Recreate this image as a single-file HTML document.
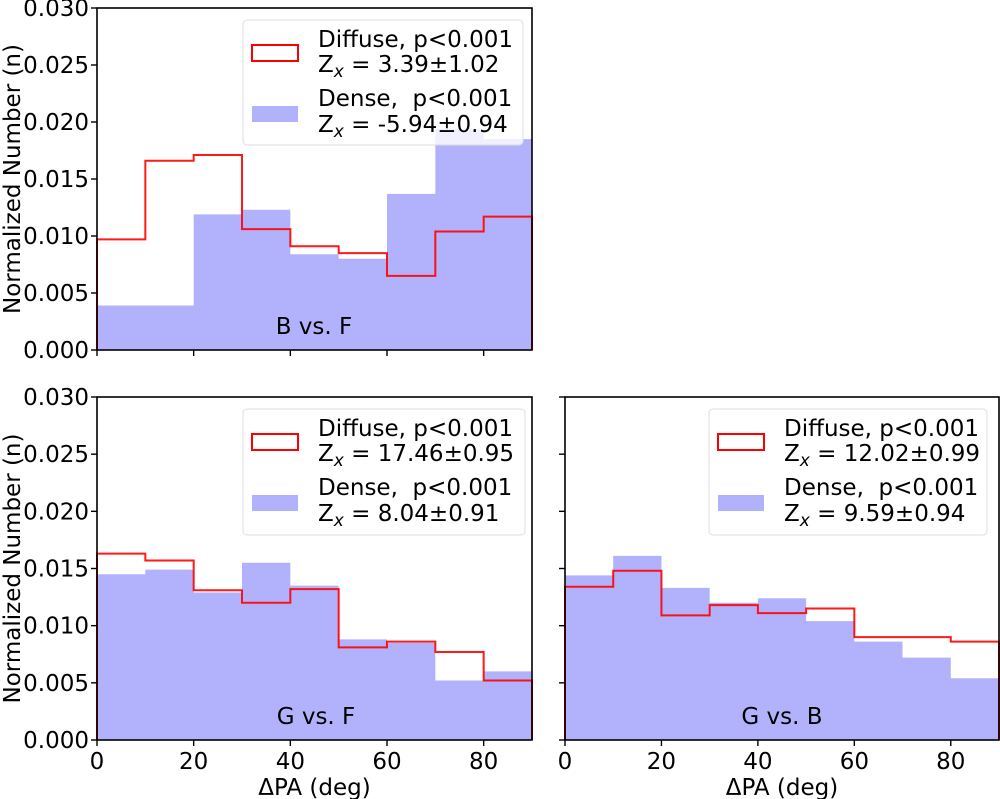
<!DOCTYPE html>
<html><head><meta charset="utf-8">
<style>
html,body{margin:0;padding:0;background:#fff;}
svg{display:block;font-family:"DejaVu Sans","Liberation Sans",sans-serif;}
text{white-space:pre;}
</style></head>
<body>
<svg id="fig" width="1000" height="799" viewBox="0 0 1000 799"></svg>
<script>
const bins = [0,10,20,30,40,50,60,70,80,90];
const yTicks = [0.000,0.005,0.010,0.015,0.020,0.025,0.030];
const yTickLabels = ["0.000","0.005","0.010","0.015","0.020","0.025","0.030"];
const xTicks = [0,20,40,60,80];
const bfDiffuse = [0.0097,0.0166,0.0171,0.0106,0.0091,0.0085,0.0065,0.0104,0.0117];
const bfDense   = [0.0039,0.0039,0.0119,0.0123,0.0084,0.0080,0.0137,0.0194,0.0185];
const gfDiffuse = [0.0163,0.0157,0.0131,0.0120,0.0132,0.0081,0.0086,0.0077,0.0052];
const gfDense   = [0.0145,0.0149,0.0129,0.0155,0.0135,0.0088,0.0085,0.0052,0.0060];
const gbDiffuse = [0.0134,0.0148,0.0109,0.0118,0.0111,0.0115,0.0090,0.0090,0.0086];
const gbDense   = [0.0144,0.0161,0.0133,0.0120,0.0124,0.0104,0.0086,0.0072,0.0054];

const NS="http://www.w3.org/2000/svg";
const svg=document.getElementById('fig');
const FS=23;
function mk(tag,attrs,parent){const e=document.createElementNS(NS,tag);for(const k in attrs)e.setAttribute(k,attrs[k]);(parent||svg).appendChild(e);return e;}

function panel(p){
  const g=mk('g',{});
  
  
  const xs=v=>p.x0+(v-0)/90*(p.x1-p.x0);
  const ys=v=>p.y1-v/0.03*(p.y1-p.y0);
  let d='M'+xs(bins[0])+','+ys(0);
  p.dense.forEach((v,i)=>{d+=' L'+xs(bins[i])+','+ys(v)+' L'+xs(bins[i+1])+','+ys(v);});
  d+=' L'+xs(bins[bins.length-1])+','+ys(0)+' Z';
  const den=mk('path',{d:d,fill:'#b2b2fc',stroke:'none'},g);
  
  
  let s='M'+xs(bins[0])+','+ys(0);
  p.diffuse.forEach((v,i)=>{s+=' L'+xs(bins[i])+','+ys(v)+' L'+xs(bins[i+1])+','+ys(v);});
  s+=' L'+xs(bins[bins.length-1])+','+ys(0);
  const dif=mk('path',{d:s,fill:'none',stroke:'#ff0000','stroke-width':2,'stroke-opacity':0.9},g);
  
  
  mk('rect',{x:p.x0,y:p.y0,width:p.x1-p.x0,height:p.y1-p.y0,fill:'none',stroke:'#000','stroke-width':1.6},g);
  yTicks.forEach((t,i)=>{
    mk('line',{x1:p.x0-6,x2:p.x0,y1:ys(t),y2:ys(t),stroke:'#000','stroke-width':1.4},g);
    if(p.ylabels){
      const tx=mk('text',{x:p.x0-8,y:ys(t)+8,'text-anchor':'end','font-size':FS,fill:'#000'},g);
      tx.textContent=yTickLabels[i];
      
      
    }
  });
  xTicks.forEach(t=>{
    mk('line',{x1:xs(t),x2:xs(t),y1:p.y1,y2:p.y1+6,stroke:'#000','stroke-width':1.4},g);
    if(p.xlabels){
      const tx=mk('text',{x:xs(t),y:p.y1+29,'text-anchor':'middle','font-size':FS,fill:'#000'},g);
      tx.textContent=String(t);
      
      
    }
  });
  if(p.xlabels){
    const xt=mk('text',{x:(p.x0+p.x1)/2,y:p.y1+55,'text-anchor':'middle','font-size':FS,fill:'#000'},g);
    xt.textContent='ΔPA (deg)';
    
    
  }
  if(p.ylabels){
    const yt=mk('text',{x:0,y:0,'text-anchor':'middle','font-size':FS,fill:'#000',transform:'translate(20,'+((p.y0+p.y1)/2)+') rotate(-90)'},g);
    yt.textContent='Normalized Number (n)';
    
    
  }
  const lab=mk('text',{x:p.labelX,y:p.y1-16,'text-anchor':'middle','font-size':FS,fill:'#000'},g);
  lab.textContent=p.label;
  
  
  const L=p.leg;
  const lg=mk('g',{},g);
  
  
  mk('rect',{x:L.x,y:L.y,width:L.w,height:L.h,rx:4,fill:'#fff','fill-opacity':0.8,stroke:'#ddd','stroke-width':1},lg);
  mk('rect',{x:L.x+L.off,y:L.y+25,width:46,height:16,fill:'#fff',stroke:'#ff0000','stroke-width':2},lg);
  mk('rect',{x:L.x+L.off,y:L.y+86,width:46,height:16,fill:'#b2b2fc'},lg);
  const lines=[['Diffuse, p<0.001',27],[null,52,p.zd],['Dense,  p<0.001',86],[null,112,p.zn]];
  lines.forEach(l=>{
    const t=mk('text',{x:L.x+L.off+66,y:L.y+l[1],'font-size':FS,fill:'#000'},lg);
    if(l[0]) t.textContent=l[0];
    else{
      t.appendChild(document.createTextNode('Z'));
      const sub=mk('tspan',{'font-style':'italic','font-size':17,dy:5},t);sub.textContent='x';
      const rest=mk('tspan',{dy:-5},t);rest.textContent=' = '+l[2];
    }
    
    
  });
}

panel({name:'panel-b-vs-f',x0:97,x1:532,y0:8,y1:350,diffuse:bfDiffuse,dense:bfDense,ylabels:true,xlabels:false,label:'B vs. F',labelX:314,
  leg:{x:243,y:20,w:280,h:125,off:9},zd:'3.39±1.02',zn:'-5.94±0.94'});
panel({name:'panel-g-vs-f',x0:97,x1:532,y0:397,y1:740,diffuse:gfDiffuse,dense:gfDense,ylabels:true,xlabels:true,label:'G vs. F',labelX:316,
  leg:{x:243,y:409,w:282,h:126,off:9},zd:'17.46±0.95',zn:'8.04±0.91'});
panel({name:'panel-g-vs-b',x0:565,x1:999,y0:397,y1:740,diffuse:gbDiffuse,dense:gbDense,ylabels:false,xlabels:true,label:'G vs. B',labelX:782,
  leg:{x:709,y:409,w:278,h:126,off:9},zd:'12.02±0.99',zn:'9.59±0.94'});
</script>
</body></html>
